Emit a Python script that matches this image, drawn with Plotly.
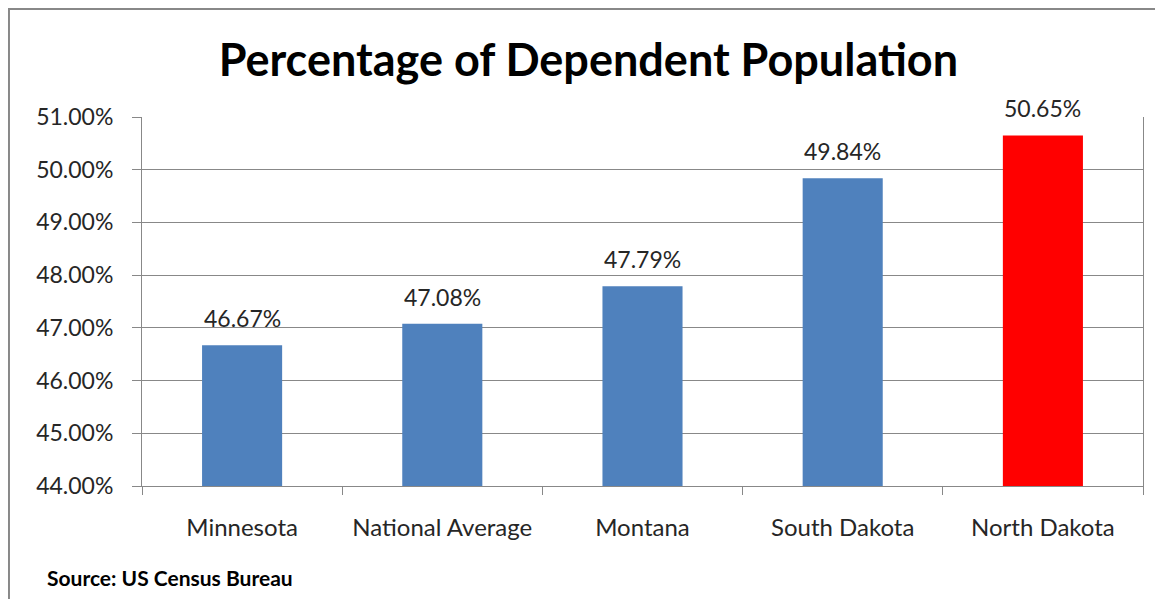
import plotly.graph_objects as go

categories = ["Minnesota", "National Average", "Montana", "South Dakota", "North Dakota"]
values = [0.4667, 0.4708, 0.4779, 0.4984, 0.5065]
bar_colors = ["#4F81BD", "#4F81BD", "#4F81BD", "#4F81BD", "#FF0000"]
value_labels = [f"{v:.2%}" for v in values]

font_family = "Lato, 'Open Sans', sans-serif"

fig = go.Figure(go.Bar(
    x=categories,
    y=values,
    marker=dict(color=bar_colors, line=dict(width=0)),
    hoverinfo="x+y",
))

# data labels above each bar
label_annotations = [
    dict(x=c, y=v, text=t, xref="x", yref="y", showarrow=False,
         yanchor="bottom", yshift=11,
         font=dict(size=23, color="#262626", family=font_family))
    for c, v, t in zip(categories, values, value_labels)
]

fig.update_layout(
    width=1147,
    height=591,
    paper_bgcolor="white",
    plot_bgcolor="white",
    margin=dict(l=134, r=12, t=109, b=113),
    bargap=0.6,
    showlegend=False,
    title=dict(
        text="<b>Percentage of Dependent Population</b>",
        x=0.506, xanchor="center",
        y=0.912, yanchor="middle",
        font=dict(size=45, color="black", family=font_family),
    ),
    font=dict(family=font_family, color="#262626"),
    xaxis=dict(
        showline=True, linecolor="#888888", linewidth=1,
        ticks="outside", tickson="boundaries", ticklen=8, tickcolor="#888888",
        ticklabelstandoff=20,
        tickfont=dict(size=24, color="#262626"),
        showgrid=False,
    ),
    yaxis=dict(
        range=[0.44, 0.51],
        dtick=0.01,
        tickformat=".2%",
        showline=True, mirror=True, linecolor="#888888", linewidth=1,
        ticks="outside", ticklen=9, tickcolor="#888888",
        ticklabelstandoff=14,
        gridcolor="#888888", gridwidth=1,
        tickfont=dict(size=23, color="#262626"),
        zeroline=False,
    ),
    shapes=[dict(
        type="rect", xref="paper", yref="paper",
        x0=-0.1329, x1=1.03, y0=-0.4, y1=1.2927,
        line=dict(color="#888888", width=2),
    )],
    annotations=label_annotations + [dict(
        text="<b>Source: US Census Bureau</b>",
        xref="paper", yref="paper",
        x=-0.0969, y=-0.2493, xanchor="left", yanchor="middle",
        showarrow=False,
        font=dict(size=21, color="black", family=font_family),
    )],
)

fig.write_html("out.html")
